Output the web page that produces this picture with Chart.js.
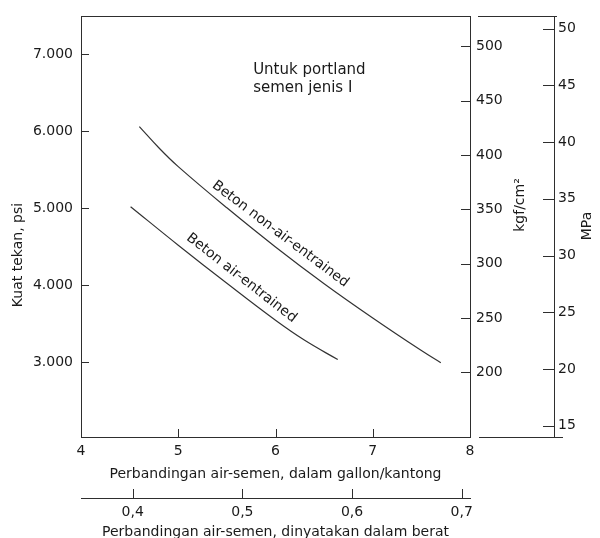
<!DOCTYPE html>
<html>
<head>
<meta charset="utf-8">
<script src="https://cdn.jsdelivr.net/npm/chart.js@4.4.1/dist/chart.umd.min.js"></script>
<style>
  html, body { margin: 0; padding: 0; background: #fff; }
</style>
</head>
<body>
<canvas id="chart" width="600" height="538"></canvas>
<script>
// Curves: water-cement ratio (gallon/sack) vs strength (psi)
const nonAirGal = [4.6, 4.8, 5.0, 5.5, 6.0, 6.5, 7.0, 7.5, 7.7];
const nonAirPsi = [6060, 5785, 5540, 5005, 4497, 4020, 3575, 3152, 2994];
const airGal = [4.51, 5.0, 5.5, 6.0, 6.3, 6.64];
const airPsi = [5020, 4520, 4025, 3545, 3285, 3035];

// Tick labels of the five axes
const galTicks = [4, 5, 6, 7, 8];
const wcTicks = [0.4, 0.5, 0.6, 0.7];
const psiTicks = [3000, 4000, 5000, 6000, 7000];
const kgfTicks = [200, 250, 300, 350, 400, 450, 500];
const mpaTicks = [15, 20, 25, 30, 35, 40, 45, 50];

const INK = '#1a1a1a';
const LINE = '#2e2e2e';
const FAMILY = "'DejaVu Sans', sans-serif";
const tickFont = { family: FAMILY, size: 14 };

const toPoints = (xs, ys) => xs.map((v, i) => ({ x: v, y: ys[i] }));
const fixTicks = list => scale => { scale.ticks = list.map(v => ({ value: v })); };
const dotThousands = v => String(v).replace(/\B(?=(\d{3})+(?!\d))/g, '.');

// inward tick marks, frame pieces, rotated titles and notes
const extras = {
    id: 'extras',
    afterDraw(chart) {
        const { ctx, chartArea: a, scales } = chart;
        const { x, x2, y, y2, y3 } = scales;
        const r = v => Math.round(v) + 0.5;
        const seg = (x1, y1, xb, yb) => {
            ctx.beginPath(); ctx.moveTo(x1, y1); ctx.lineTo(xb, yb); ctx.stroke();
        };
        ctx.save();
        ctx.strokeStyle = LINE;
        ctx.lineWidth = 1;

        // top of the frame and the short pieces on the right
        seg(a.left, r(a.top), a.right, r(a.top));
        seg(a.right + 8, r(a.top), y3.left + 3, r(a.top));
        seg(a.right + 9, r(a.bottom), y3.left + 9, r(a.bottom));

        y.ticks.forEach(t => { const p = r(y.getPixelForValue(t.value)); seg(a.left, p, a.left + 8, p); });
        y2.ticks.forEach(t => { const p = r(y2.getPixelForValue(t.value)); seg(a.right - 9, p, a.right, p); });
        y3.ticks.forEach(t => { const p = r(y3.getPixelForValue(t.value)); seg(y3.left - 11, p, y3.left, p); });
        x.ticks.forEach(t => { const p = r(x.getPixelForValue(t.value)); seg(p, a.bottom, p, a.bottom - 8); });
        x2.ticks.forEach(t => { const p = r(x2.getPixelForValue(t.value)); seg(p, x2.top, p, x2.top - 9); });

        ctx.fillStyle = INK;
        ctx.textAlign = 'center';
        ctx.textBaseline = 'middle';
        const upright = (text, cx, cy) => {
            ctx.save(); ctx.translate(cx, cy); ctx.rotate(-Math.PI / 2);
            ctx.fillText(text, 0, 0); ctx.restore();
        };
        ctx.font = `14px ${FAMILY}`;
        upright('Kuat tekan, psi', 18, 255);
        upright('kgf/cm²', 520, 205);
        upright('MPa', 587, 226);

        // notes inside the plot
        ctx.font = `15px ${FAMILY}`;
        ctx.textAlign = 'left';
        ctx.textBaseline = 'alphabetic';
        const nx = x.getPixelForValue(5.77), ny = y.getPixelForValue(6736);
        ctx.fillText('Untuk portland', nx, ny);
        ctx.fillText('semen jenis I', nx, ny + 18);

        ctx.font = `14px ${FAMILY}`;
        ctx.textAlign = 'center';
        ctx.textBaseline = 'middle';
        const along = (text, gal, psi, deg) => {
            ctx.save();
            ctx.translate(x.getPixelForValue(gal), y.getPixelForValue(psi));
            ctx.rotate(deg * Math.PI / 180);
            ctx.fillText(text, 0, 0);
            ctx.restore();
        };
        along('Beton non-air-entrained', 6.05, 4663, 37);
        along('Beton air-entrained', 5.65, 4094, 38);
        ctx.restore();
    }
};

const axisBase = {
    type: 'linear',
    grid: { display: false, drawTicks: false },
    border: { display: true, color: LINE, width: 1 },
};

new Chart(document.getElementById('chart'), {
    type: 'line',
    data: {
        datasets: [
            { label: 'Beton non-air-entrained', data: toPoints(nonAirGal, nonAirPsi) },
            { label: 'Beton air-entrained', data: toPoints(airGal, airPsi) }
        ].map(d => Object.assign(d, {
            xAxisID: 'x', yAxisID: 'y',
            borderColor: '#333', borderWidth: 1.2,
            pointRadius: 0, fill: false,
            tension: 0.4
        }))
    },
    options: {
        responsive: false,
        animation: false,
        layout: { padding: { top: 13 } },
        plugins: { legend: { display: false }, tooltip: { enabled: false } },
        scales: {
            x: {
                ...axisBase, position: 'bottom', weight: 0, min: 4, max: 8,
                afterFit: s => { s.height = 61; },
                afterBuildTicks: fixTicks(galTicks),
                ticks: { font: tickFont, color: INK, padding: 6, maxRotation: 0, autoSkip: false },
                title: { display: true, text: 'Perbandingan air-semen, dalam gallon/kantong', font: tickFont, color: INK, padding: { top: 0, bottom: 15 } }
            },
            x2: {
                ...axisBase, position: 'bottom', weight: 1, min: 0.35286, max: 0.70757,
                afterFit: s => { s.height = 40; },
                afterBuildTicks: fixTicks(wcTicks),
                ticks: { font: tickFont, color: INK, padding: 6, maxRotation: 0, autoSkip: false,
                         callback: v => v.toFixed(1).replace('.', ',') },
                title: { display: true, text: 'Perbandingan air-semen, dinyatakan dalam berat', font: tickFont, color: INK, padding: { top: 0, bottom: -3 } }
            },
            y: {
                ...axisBase, position: 'left', min: 2030, max: 7490,
                afterFit: s => { s.width = 81; },
                afterBuildTicks: fixTicks(psiTicks),
                ticks: { font: tickFont, color: INK, padding: 8, callback: dotThousands }
            },
            y2: {
                ...axisBase, position: 'right', weight: 0, min: 140.3, max: 527.7,
                afterFit: s => { s.width = 84; },
                afterBuildTicks: fixTicks(kgfTicks),
                ticks: { font: tickFont, color: INK, padding: 6 }
            },
            y3: {
                ...axisBase, position: 'right', weight: 1, min: 14.01, max: 51.08,
                afterFit: s => { s.width = 46; },
                afterBuildTicks: fixTicks(mpaTicks),
                ticks: { font: tickFont, color: INK, padding: 4 }
            }
        }
    },
    plugins: [extras]
});
</script>
</body>
</html>
